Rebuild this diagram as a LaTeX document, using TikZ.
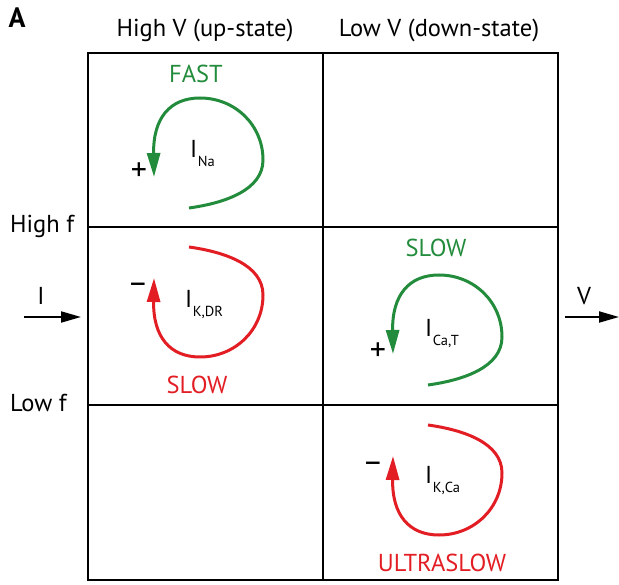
\documentclass[tikz,border=0pt]{standalone}
\usepackage{fontspec}
\setmainfont{PT Sans}
\usetikzlibrary{arrows.meta}
\definecolor{cgreen}{RGB}{35,140,60}
\definecolor{cred}{RGB}{226,30,36}
\newcommand\ionloop{(0,0) .. controls (36,-5) and (74,-18) .. (74,-48) .. controls (74,-83) and (46,-110) .. (11,-110) .. controls (-19,-110) and (-36,-90) .. (-35,-31)}
\newcommand\Isub[1]{I\kern0.5pt\raisebox{-9pt}{\fontsize{14.5}{15}\selectfont #1}}
\begin{document}
\begin{tikzpicture}[x=1pt,y=-1pt,
  gridline/.style={line width=2pt, black},
  lbl/.style={font=\fontsize{24.5}{28}\selectfont, inner sep=0pt, anchor=base},
  curlbl/.style={font=\fontsize{24.5}{28}\selectfont, inner sep=0pt, anchor=base west},
  sign/.style={font=\fontsize{32}{34}\selectfont, inner sep=0pt},
  loopline/.style={line width=3pt, -{Triangle[length=24pt,width=13pt]}},
  axarrow/.style={line width=2pt, -{Triangle[length=20pt,width=11pt]}}]
\useasboundingbox (0,0) rectangle (619,585);
% grid
\draw[gridline] (88,53) rectangle (558,580);
\draw[gridline] (323,53) -- (323,580);
\draw[gridline] (88,227) -- (558,227);
\draw[gridline] (88,405) -- (558,405);
% headings
\node[font=\bfseries\fontsize{28}{30}\selectfont, inner sep=0pt, anchor=base] (lblA) at (17,28) {A};
\node[lbl] (colhi) at (205,37) {High V (up-state)};
\node[lbl] (collo) at (439,37) {Low V (down-state)};
\node[lbl, anchor=base west] (rowhi) at (10,233) {High f};
\node[lbl, anchor=base west] (rowlo) at (10,412) {Low f};
% axis arrows
\coordinate (i0) at (24,317); \coordinate (i1) at (81,317);
\draw[axarrow] (i0) -- (i1);
\node[lbl] (ilbl) at (41,305) {I};
\coordinate (v0) at (565,317); \coordinate (v1) at (619,317);
\draw[axarrow] (v0) -- (v1);
\node[lbl] (vlbl) at (584,305) {V};
% loop 1: I_Na
\begin{scope}[shift={(189,208)}]
  \draw[loopline, cgreen] \ionloop;
\end{scope}
\node[lbl, text=cgreen] (fast) at (196,83) {FAST};
\node[sign] (p1) at (139,172) {+};
\node[curlbl] (ina) at (190,158) {\Isub{Na}};
% loop 2: I_K,DR
\begin{scope}[shift={(189,247)}, yscale=-1]
  \draw[loopline, cred] \ionloop;
\end{scope}
\node[lbl, text=cred] (slow1) at (197,394) {SLOW};
\node[sign] (m1) at (138,288) {–};
\node[curlbl] (ikdr) at (185,308) {\Isub{K,DR}};
% loop 3: I_Ca,T
\begin{scope}[shift={(428,385)}]
  \draw[loopline, cgreen] \ionloop;
\end{scope}
\node[lbl, text=cgreen] (slow2) at (436,257) {SLOW};
\node[sign] (p2) at (378,352) {+};
\node[curlbl] (icat) at (425,337) {\Isub{Ca,T}};
% loop 4: I_K,Ca
\begin{scope}[shift={(428,425)}, yscale=-1]
  \draw[loopline, cred] \ionloop;
\end{scope}
\node[lbl, text=cred] (uslow) at (442,571) {ULTRASLOW};
\node[sign] (m2) at (373,467) {–};
\node[curlbl] (ikca) at (425,483) {\Isub{K,Ca}};
\end{tikzpicture}
\end{document}
